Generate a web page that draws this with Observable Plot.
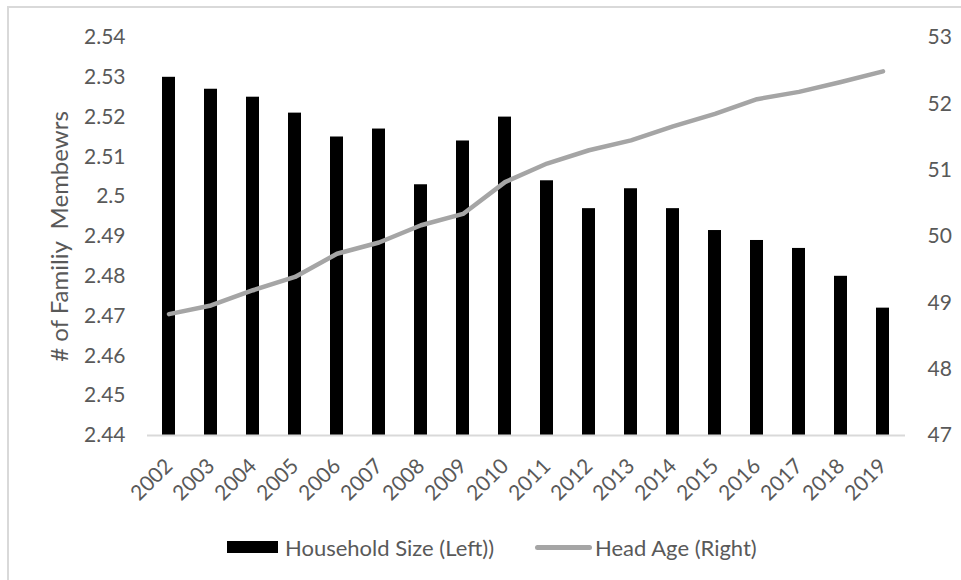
<!DOCTYPE html>
<html>
<head>
<meta charset="utf-8">
<script src="https://cdn.jsdelivr.net/npm/d3@7"></script>
<script src="https://cdn.jsdelivr.net/npm/@observablehq/plot@0.6"></script>
<style>
  html, body { margin: 0; padding: 0; background: #fff; }
  #wrap { position: relative; width: 961px; height: 580px; overflow: hidden; font-family: Lato, sans-serif; }
  #frame { position: absolute; left: 7px; top: 6px; width: 1000px; height: 1000px;
           border-top: 2px solid #d9d9d9; border-left: 2px solid #d9d9d9; box-sizing: border-box; }
  #chart { position: absolute; left: 0; top: 0; }
  #legend { position: absolute; left: 0; top: 533px; width: 961px; height: 28px;
            font-size: 22px; color: #595959; }
  .item { position: absolute; top: 0; display: flex; align-items: center; height: 28px; }
  .swatch-bar { width: 51px; height: 12px; background: #000; margin-right: 7px; }
  .swatch-line { width: 57px; height: 5px; background: #a5a5a5; border-radius: 3px; margin-right: 3px; }
</style>
</head>
<body>
<div id="wrap">
  <div id="frame"></div>
  <div id="chart"></div>
  <div id="legend">
    <div class="item" style="left:227px"><span class="swatch-bar"></span><span>Household Size (Left))</span></div>
    <div class="item" style="left:535px"><span class="swatch-line"></span><span>Head Age (Right)</span></div>
  </div>
</div>
<script>
// Survey years
const years = ["2002","2003","2004","2005","2006","2007","2008","2009","2010",
               "2011","2012","2013","2014","2015","2016","2017","2018","2019"];
// Average household size (left axis)
const householdSize = [2.530, 2.527, 2.525, 2.521, 2.515, 2.517, 2.503, 2.514, 2.520,
                       2.504, 2.497, 2.502, 2.497, 2.4915, 2.489, 2.487, 2.480, 2.472];
// Average age of household head (right axis)
const headAge = [48.83, 48.96, 49.19, 49.39, 49.74, 49.91, 50.17, 50.34, 50.82,
                 51.10, 51.30, 51.45, 51.66, 51.85, 52.07, 52.18, 52.33, 52.49];
// Axis ticks
const leftTicks = [2.44, 2.45, 2.46, 2.47, 2.48, 2.49, 2.50, 2.51, 2.52, 2.53, 2.54];
const rightTicks = [47, 48, 49, 50, 51, 52, 53];

const leftDomain = [2.44, 2.54];
const rightDomain = [47, 53];
// map the right-axis value onto the left scale
const toLeft = v => leftDomain[0] + (v - rightDomain[0]) / (rightDomain[1] - rightDomain[0]) * (leftDomain[1] - leftDomain[0]);
const fromLeft = v => rightDomain[0] + (v - leftDomain[0]) / (leftDomain[1] - leftDomain[0]) * (rightDomain[1] - rightDomain[0]);

const rows = years.map((year, i) => ({year, size: householdSize[i], age: headAge[i]}));

const gray = "#595959";

const chart = Plot.plot({
  width: 961,
  height: 580,
  marginLeft: 147,
  marginRight: 56,
  marginTop: 37,
  marginBottom: 145,
  style: {fontFamily: "Lato, sans-serif", fontSize: "20px", color: gray, background: "transparent", overflow: "visible"},
  x: {domain: years, paddingInner: 0.68, paddingOuter: 0.34, align: 0.5, axis: null},
  y: {domain: leftDomain},
  marks: [
    Plot.axisY(leftTicks, {anchor: "left", tickSize: 0, tickPadding: 22, fontSize: 21, fill: gray,
      tickFormat: d => d3.format("")(+d.toFixed(2)), label: null}),
    Plot.axisY(rightTicks.map(toLeft), {anchor: "right", tickSize: 0, tickPadding: 22, fontSize: 21, fill: gray,
      tickFormat: d => Math.round(fromLeft(d)), label: null}),
    // slanted year labels under each bar
    Plot.text(years, {x: d => d, frameAnchor: "bottom", dy: 27, rotate: -45, textAnchor: "end",
      lineAnchor: "middle", fontSize: 21, fill: gray}),
    Plot.text(["# of Familiy  Membewrs"], {frameAnchor: "left", textAnchor: "middle", dx: -87, rotate: -90,
      fontSize: 24, fill: gray}),
    Plot.barY(rows, {x: "year", y1: () => 2.44, y2: "size", fill: "#000"}),
    Plot.ruleY([2.44], {stroke: "#d9d9d9", strokeWidth: 2}),
    Plot.line(rows, {x: "year", y: d => toLeft(d.age), stroke: "#a5a5a5", strokeWidth: 4.5,
      strokeLinecap: "round", strokeLinejoin: "round"})
  ]
});

document.getElementById("chart").appendChild(chart);
</script>
</body>
</html>
